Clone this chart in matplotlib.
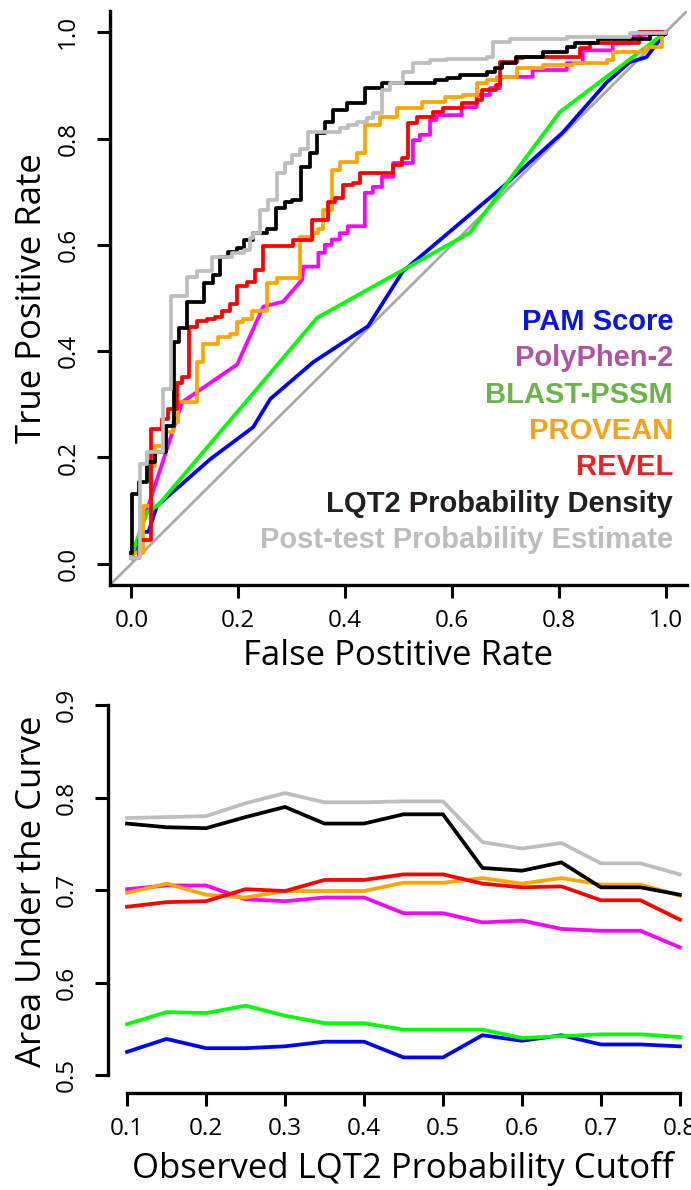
import matplotlib
matplotlib.use("Agg")
import matplotlib.pyplot as plt
import numpy as np

# ---- ROC curves (top panel) ----
# step curves, drawn with steps-post
lqt2_fpr = [0.0, 0.002, 0.015, 0.030, 0.045, 0.064, 0.079, 0.090, 0.105, 0.136, 0.153, 0.165,
            0.181, 0.198, 0.211, 0.228, 0.254, 0.271, 0.288, 0.300, 0.318, 0.335, 0.347, 0.363,
            0.377, 0.403, 0.437, 0.469, 0.568, 0.590, 0.615, 0.665, 0.680, 0.693, 0.720, 0.770,
            0.815, 0.830, 0.873, 0.970, 1.0]
lqt2_tpr = [0.02, 0.131, 0.154, 0.191, 0.210, 0.259, 0.418, 0.443, 0.492, 0.529, 0.544, 0.578,
            0.587, 0.595, 0.610, 0.623, 0.629, 0.670, 0.681, 0.685, 0.747, 0.773, 0.810, 0.831,
            0.854, 0.867, 0.895, 0.904, 0.910, 0.914, 0.919, 0.925, 0.932, 0.942, 0.953, 0.963,
            0.972, 0.979, 0.987, 0.996, 1.0]

post_fpr = [0.0, 0.016, 0.030, 0.060, 0.075, 0.105, 0.123, 0.151, 0.188, 0.210, 0.222, 0.228,
            0.241, 0.256, 0.273, 0.288, 0.301, 0.316, 0.331, 0.391, 0.406, 0.422, 0.441, 0.452,
            0.469, 0.484, 0.508, 0.527, 0.559, 0.590, 0.665, 0.677, 0.708, 0.815, 0.933, 1.0]
post_tpr = [0.01, 0.188, 0.210, 0.328, 0.503, 0.540, 0.550, 0.578, 0.585, 0.591, 0.613, 0.623,
            0.666, 0.685, 0.735, 0.754, 0.769, 0.780, 0.812, 0.820, 0.826, 0.831, 0.838, 0.848,
            0.891, 0.904, 0.925, 0.942, 0.947, 0.950, 0.953, 0.981, 0.988, 0.992, 0.998, 1.0]

revel_fpr = [0.008, 0.015, 0.037, 0.058, 0.069, 0.086, 0.095, 0.107, 0.123, 0.142, 0.157, 0.170,
             0.185, 0.198, 0.217, 0.232, 0.247, 0.303, 0.338, 0.368, 0.381, 0.396, 0.415, 0.428,
             0.490, 0.506, 0.518, 0.535, 0.565, 0.583, 0.618, 0.646, 0.656, 0.683, 0.690, 0.721,
             0.733, 0.839, 0.858, 0.950, 1.0]
revel_tpr = [0.01, 0.045, 0.253, 0.272, 0.291, 0.341, 0.351, 0.445, 0.456, 0.461, 0.465, 0.475,
             0.488, 0.522, 0.531, 0.553, 0.597, 0.610, 0.647, 0.681, 0.688, 0.713, 0.717, 0.735,
             0.750, 0.763, 0.829, 0.841, 0.850, 0.857, 0.866, 0.872, 0.891, 0.900, 0.944, 0.951,
             0.953, 0.970, 0.979, 1.0, 1.0]

provean_fpr = [0.005, 0.022, 0.036, 0.045, 0.064, 0.077, 0.088, 0.123, 0.135, 0.163, 0.185, 0.198,
               0.209, 0.226, 0.254, 0.273, 0.316, 0.340, 0.350, 0.359, 0.376, 0.391, 0.422, 0.437,
               0.465, 0.497, 0.544, 0.587, 0.620, 0.646, 0.665, 0.684, 0.721, 0.770, 0.826, 0.890,
               0.901, 0.964, 0.994]
provean_tpr = [0.02, 0.109, 0.184, 0.221, 0.248, 0.266, 0.304, 0.379, 0.413, 0.426, 0.432, 0.454,
               0.460, 0.475, 0.529, 0.538, 0.615, 0.623, 0.630, 0.666, 0.741, 0.756, 0.773, 0.826,
               0.841, 0.857, 0.869, 0.878, 0.882, 0.904, 0.910, 0.916, 0.932, 0.938, 0.942, 0.947,
               0.963, 0.972, 1.0]

# polylines
polyphen_fpr = [0.0, 0.036, 0.095, 0.198, 0.247, 0.284, 0.320, 0.322, 0.350, 0.350, 0.362, 0.362,
                0.375, 0.375, 0.390, 0.390, 0.405, 0.405, 0.437, 0.437, 0.452, 0.452, 0.469, 0.469,
                0.490, 0.490, 0.527, 0.527, 0.540, 0.540, 0.559, 0.559, 0.571, 0.571, 0.618, 0.618,
                0.646, 0.646, 0.671, 0.671, 0.690, 0.690, 0.751, 0.751, 0.815, 0.815, 0.845, 0.845,
                0.901, 0.901, 0.933, 0.933, 0.993, 1.0]
polyphen_tpr = [0.01, 0.122, 0.304, 0.375, 0.484, 0.493, 0.535, 0.559, 0.559, 0.585, 0.585, 0.600,
                0.600, 0.610, 0.610, 0.622, 0.622, 0.635, 0.635, 0.698, 0.698, 0.709, 0.709, 0.728,
                0.728, 0.754, 0.754, 0.797, 0.797, 0.807, 0.807, 0.835, 0.835, 0.844, 0.844, 0.859,
                0.859, 0.882, 0.882, 0.895, 0.895, 0.916, 0.916, 0.929, 0.929, 0.942, 0.942, 0.966,
                0.966, 0.979, 0.979, 0.991, 1.0, 1.0]

blast_fpr = [0.0, 0.030, 0.049, 0.348, 0.634, 0.802, 1.0]
blast_tpr = [0.015, 0.098, 0.109, 0.463, 0.623, 0.850, 1.0]

pam_fpr = [0.004, 0.020, 0.032, 0.048, 0.148, 0.228, 0.260, 0.340, 0.443, 0.508, 0.695, 0.808,
           0.890, 0.933, 0.964, 1.0]
pam_tpr = [0.02, 0.060, 0.060, 0.109, 0.197, 0.257, 0.310, 0.379, 0.447, 0.550, 0.709, 0.812,
           0.906, 0.944, 0.953, 1.0]

# ---- AUC vs cutoff (bottom panel) ----
cutoff = [0.1, 0.15, 0.2, 0.25, 0.3, 0.35, 0.4, 0.45, 0.5, 0.55, 0.6, 0.65, 0.7, 0.75, 0.8]
auc_pam = [0.525, 0.539, 0.529, 0.529, 0.531, 0.536, 0.536, 0.519, 0.519, 0.543, 0.537, 0.543, 0.533, 0.533, 0.531]
auc_polyphen = [0.701, 0.705, 0.705, 0.690, 0.688, 0.692, 0.692, 0.675, 0.675, 0.665, 0.667, 0.658, 0.656, 0.656, 0.638]
auc_blast = [0.555, 0.568, 0.567, 0.575, 0.564, 0.556, 0.556, 0.549, 0.549, 0.549, 0.540, 0.542, 0.544, 0.544, 0.541]
auc_provean = [0.697, 0.707, 0.695, 0.692, 0.699, 0.699, 0.699, 0.708, 0.708, 0.713, 0.707, 0.713, 0.706, 0.706, 0.694]
auc_revel = [0.682, 0.687, 0.688, 0.701, 0.699, 0.711, 0.711, 0.717, 0.717, 0.707, 0.703, 0.704, 0.689, 0.689, 0.668]
auc_lqt2 = [0.772, 0.768, 0.767, 0.779, 0.790, 0.772, 0.772, 0.782, 0.782, 0.724, 0.721, 0.730, 0.703, 0.703, 0.695]
auc_post = [0.778, 0.779, 0.780, 0.794, 0.805, 0.795, 0.795, 0.796, 0.796, 0.752, 0.745, 0.751, 0.729, 0.729, 0.717]

names = ["PAM Score", "PolyPhen-2", "BLAST-PSSM", "PROVEAN", "REVEL",
         "LQT2 Probability Density", "Post-test Probability Estimate"]
line_cols = ["#0000ff", "#ff00ff", "#00ff00", "#ffa500", "#ff0000", "#000000", "#bebebe"]
text_cols = ["#0a14e6", "#b352a4", "#6cb34a", "#f8a21c", "#ec2228", "#231f20", "#bdbdbd"]

plt.rcParams['font.family'] = ['Open Sans', 'DejaVu Sans']
W, H = 691, 1190
fig = plt.figure(figsize=(W / 100, H / 100), dpi=100)

def px_axes(l, t, r, b):
    return fig.add_axes([l / W, 1 - b / H, (r - l) / W, (b - t) / H])

def style(ax):
    for s in ["top", "right"]:
        ax.spines[s].set_visible(False)
    for s in ["left", "bottom"]:
        ax.spines[s].set_linewidth(2.4)
    ax.tick_params(direction="out", length=9.4, width=2.2, labelsize=17.5, pad=8)
    ax.tick_params(axis="y", pad=12)

lw = 2.7

# top panel
ax1 = px_axes(110, 11, 687, 585)
ax1.set_xlim(-0.04, 1.04)
ax1.set_ylim(-0.04, 1.04)
ax1.axline((0, 0), (1, 1), color="#aaaaaa", lw=2.0, zorder=1)
ax1.plot(pam_fpr, pam_tpr, color=line_cols[0], lw=lw)
ax1.plot(polyphen_fpr, polyphen_tpr, color=line_cols[1], lw=lw)
ax1.plot(blast_fpr, blast_tpr, color=line_cols[2], lw=lw)
ax1.plot(provean_fpr, provean_tpr, color=line_cols[3], lw=lw, drawstyle="steps-post")
ax1.plot(revel_fpr, revel_tpr, color=line_cols[4], lw=lw, drawstyle="steps-post")
ax1.plot(lqt2_fpr, lqt2_tpr, color=line_cols[5], lw=lw, drawstyle="steps-post")
ax1.plot(post_fpr, post_tpr, color=line_cols[6], lw=lw, drawstyle="steps-post")
style(ax1)
ticks = np.arange(0, 1.01, 0.2)
ax1.set_xticks(ticks)
ax1.set_xticklabels(["%.1f" % t for t in ticks])
ax1.set_yticks(ticks)
ax1.set_yticklabels(["%.1f" % t for t in ticks], rotation=90, va="center")

for i, (n, c) in enumerate(zip(names, text_cols)):
    fig.text(673 / W, 1 - (322 + i * 36.3) / H, n, color=c, ha="right", va="center",
             fontsize=21, fontweight="bold", family="Liberation Sans")

fig.text(32 / W, 1 - 298 / H, "True Positive Rate", rotation=90, ha="center", va="center", fontsize=25)
fig.text(398 / W, 1 - 656 / H, "False Postitive Rate", ha="center", va="center", fontsize=25)

# bottom panel
ax2 = px_axes(108, 690, 702, 1093)
ax2.set_xlim(0.0759, 0.828)
ax2.set_ylim(0.4805, 0.9165)
for ys, c in zip([auc_pam, auc_polyphen, auc_blast, auc_provean, auc_revel, auc_lqt2, auc_post], line_cols):
    ax2.plot(cutoff, ys, color=c, lw=lw)
style(ax2)
ax2.spines["left"].set_bounds(0.5, 0.9)
ax2.spines["bottom"].set_bounds(0.1, 0.8)
ax2.set_xticks(cutoff[::2])
ax2.set_xticklabels(["%.1f" % t for t in cutoff[::2]])
yt = [0.5, 0.6, 0.7, 0.8, 0.9]
ax2.set_yticks(yt)
ax2.set_yticklabels(["%.1f" % t for t in yt], rotation=90, va="center")

fig.text(32 / W, 1 - 891 / H, "Area Under the Curve", rotation=90, ha="center", va="center", fontsize=25)
fig.text(403 / W, 1 - 1168 / H, "Observed LQT2 Probability Cutoff", ha="center", va="center", fontsize=25)

fig.savefig("out.png", dpi=100)
